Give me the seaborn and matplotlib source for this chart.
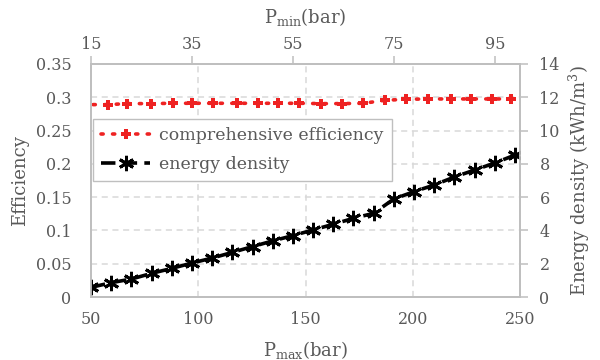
import numpy as np
import pandas as pd
import matplotlib
matplotlib.use("Agg")
import matplotlib.pyplot as plt
import seaborn as sns

# ---------------- data ----------------
pmax_ticks = [50, 100, 150, 200, 250]
pmin_ticks = [15, 35, 55, 75, 95]
eff_ticks = [0, 0.05, 0.1, 0.15, 0.2, 0.25, 0.3, 0.35]
eff_tick_labels = ["0", "0.05", "0.1", "0.15", "0.2", "0.25", "0.3", "0.35"]
dens_ticks = [0, 2, 4, 6, 8, 10, 12, 14]

# comprehensive efficiency (plotted against Pmax)
eff_pmax = [51, 58, 67, 78, 88, 97, 107, 118, 128, 137, 147, 157, 167, 177,
            187, 197, 207, 218, 227, 237, 246]
eff_values = [0.289, 0.289, 0.2905, 0.2905, 0.291, 0.291, 0.291, 0.291, 0.291,
              0.291, 0.291, 0.2905, 0.2905, 0.291, 0.2955, 0.297, 0.2975,
              0.2975, 0.2975, 0.2975, 0.2975]

# energy density (plotted against Pmin)
dens_pmin = [15, 19, 23, 27, 31, 35, 39, 43, 47, 51, 55, 59, 63, 67, 71, 75,
             79, 83, 87, 91, 95, 99]
dens_values = [0.58, 0.86, 1.08, 1.42, 1.72, 2.04, 2.34, 2.68, 3.03, 3.37,
               3.69, 4.03, 4.37, 4.73, 5.03, 5.89, 6.33, 6.73, 7.21, 7.63,
               8.05, 8.53]

eff_df = pd.DataFrame({"pmax": eff_pmax, "eff": eff_values})
dens_df = pd.DataFrame({"pmin": dens_pmin, "dens": dens_values})

# ---------------- style ----------------
sns.set_theme(style="white")
plt.rcParams["font.family"] = ["DejaVu Serif"]
plt.rcParams["mathtext.fontset"] = "dejavuserif"
TXT = "#595959"
SPINE = "#bfbfbf"
GRID = "#d9d9d9"
RED = "#ee2222"
FS = 11.5
LFS = 13

fig = plt.figure(figsize=(6, 3.6), dpi=100)
ax = fig.add_subplot(111)
fig.subplots_adjust(left=91 / 600, right=520 / 600, bottom=1 - 297 / 360,
                    top=1 - 64 / 360)
ax2 = ax.twinx()
ax3 = ax2.twiny()

# efficiency series
sns.lineplot(data=eff_df, x="pmax", y="eff", ax=ax, color=RED,
             linestyle=(0, (0.6, 2.6)), linewidth=2.6, marker="P",
             markersize=6.5, markeredgewidth=0, markeredgecolor=RED,
             markerfacecolor=RED,
             markevery=list(range(1, len(eff_pmax))),
             dash_capstyle="round", label="comprehensive efficiency",
             legend=False)

# energy density series
sns.lineplot(data=dens_df, x="pmin", y="dens", ax=ax3, color="black",
             linestyle=(0, (4, 2)), linewidth=2.6, marker=(6, 2, 0),
             markersize=11, markeredgewidth=2.1, markeredgecolor="black",
             markerfacecolor="black", label="energy density", legend=False)

# axes ranges
ax.set_xlim(50, 250)
ax.set_ylim(0, 0.35)
ax2.set_ylim(0, 14)
ax3.set_xlim(15, 100)

ax.set_xticks(pmax_ticks)
ax.set_yticks(eff_ticks)
ax.set_yticklabels(eff_tick_labels)
ax2.set_yticks(dens_ticks)
ax3.set_xticks(pmin_ticks)

ax.grid(True, color=GRID, linestyle=(0, (4, 3)), linewidth=1.1)

ax.tick_params(axis="both", labelsize=FS, labelcolor=TXT, length=0)
ax.tick_params(axis="y", pad=14)
ax.tick_params(axis="x", pad=10)
ax2.tick_params(axis="y", labelsize=FS, labelcolor=TXT, length=6,
                width=1.1, color=SPINE, pad=8, direction="out", right=True)
ax3.tick_params(axis="x", labelsize=FS, labelcolor=TXT, length=6,
                width=1.1, color=SPINE, pad=2, direction="out", top=True)

for a in (ax, ax2, ax3):
    for s in a.spines.values():
        s.set_color(SPINE)
        s.set_linewidth(1.3)

ax.set_xlabel(r"$\mathrm{P_{max}}$(bar)", fontsize=LFS, color=TXT, labelpad=8)
ax.set_ylabel("Efficiency", fontsize=LFS, color=TXT, labelpad=5)
ax2.set_ylabel(r"Energy density (kWh/m$^3$)", fontsize=LFS, color=TXT,
               labelpad=5)
ax3.set_xlabel(r"$\mathrm{P_{min}}$(bar)", fontsize=LFS, color=TXT, labelpad=9)

# legend
h1, l1 = ax.get_legend_handles_labels()
h3, l3 = ax3.get_legend_handles_labels()
leg = ax3.legend(h1 + h3, l1 + l3, loc="upper left",
                 bbox_to_anchor=(0.004, 0.765), fontsize=12.5, frameon=True,
                 fancybox=False, edgecolor=SPINE, framealpha=1,
                 handlelength=2.8, borderpad=0.5, labelspacing=0.65,
                 handletextpad=0.5, borderaxespad=0)
leg.get_frame().set_linewidth(1.0)
for t in leg.get_texts():
    t.set_color(TXT)

fig.savefig("out.png", dpi=100)
